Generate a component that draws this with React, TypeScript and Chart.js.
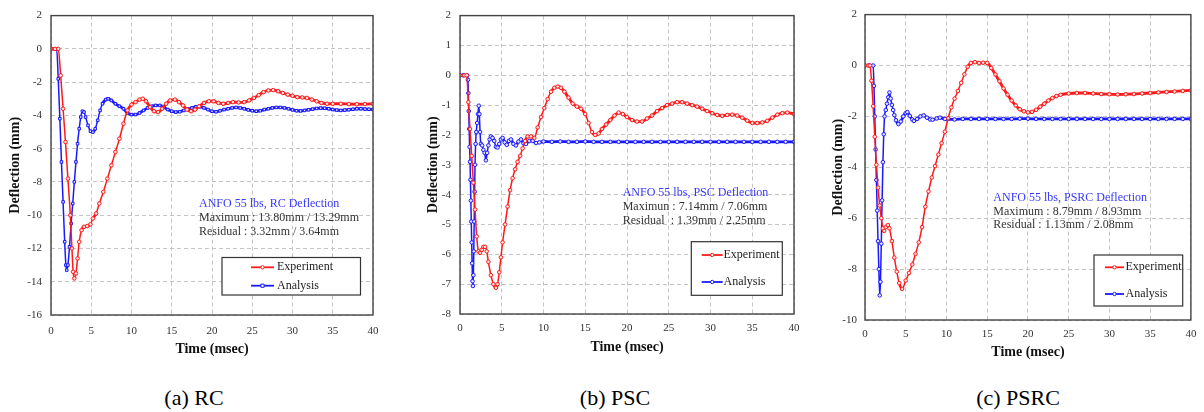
import React, { useEffect, useRef } from 'react';
import { Chart, registerables } from 'chart.js';

Chart.register(...registerables);

// ---------- data (time in msec, deflection in mm) ----------
const rcExperiment: [number, number][] = [
  [0, 0], [0.5, 0], [0.9, 0], [1.2, -1.6], [1.5, -3.6], [1.8, -5.6], [2.1, -7.8], [2.4, -10.0], [2.6, -12.0],
  [2.75, -13.4], [2.9, -13.8], [3.1, -13.5], [3.3, -12.6], [3.5, -11.6], [3.8, -10.9], [4.1, -10.7], [4.5, -10.65],
  [4.9, -10.55], [5.2, -10.2], [5.6, -9.9], [6.0, -9.3], [6.5, -8.6], [7.0, -7.8], [7.5, -7.0], [8.0, -6.2],
  [8.5, -5.4], [9.0, -4.5], [9.5, -3.7], [10.0, -3.35], [10.5, -3.2], [11.0, -3.05], [11.4, -3.0], [11.8, -3.15],
  [12.3, -3.5], [12.8, -3.75], [13.3, -3.8], [13.8, -3.6], [14.3, -3.3], [14.8, -3.1], [15.4, -3.05], [15.9, -3.2],
  [16.4, -3.4], [16.9, -3.65], [17.4, -3.75], [17.9, -3.65], [18.4, -3.45], [19.0, -3.25], [19.6, -3.15],
  [20.2, -3.15], [20.8, -3.25], [21.4, -3.3], [22.0, -3.25], [22.6, -3.2], [23.3, -3.22], [24.0, -3.2],
  [24.6, -3.1], [25.2, -2.95], [25.8, -2.78], [26.4, -2.6], [27.0, -2.5], [27.6, -2.48], [28.2, -2.55],
  [28.8, -2.65], [29.4, -2.75], [30.0, -2.82], [30.6, -2.9], [31.2, -2.92], [31.8, -2.95], [32.4, -3.05],
  [33.0, -3.15], [33.6, -3.25], [34.3, -3.3], [35.0, -3.3], [36.0, -3.3], [37.0, -3.32], [38.0, -3.33],
  [39.0, -3.32], [40.0, -3.3],
];

const rcAnalysis: [number, number][] = [
  [0, 0], [0.5, 0], [0.7, 0], [0.9, -1.8], [1.1, -4.2], [1.3, -6.8], [1.5, -9.2], [1.7, -11.6], [1.85, -13.0],
  [1.95, -13.3], [2.1, -13.0], [2.3, -11.9], [2.5, -10.5], [2.7, -9.3], [2.9, -8.0], [3.1, -6.8], [3.3, -5.7],
  [3.5, -4.8], [3.7, -4.1], [3.9, -3.75], [4.1, -3.8], [4.3, -4.1], [4.6, -4.6], [4.9, -4.95], [5.2, -5.0],
  [5.5, -4.8], [5.8, -4.3], [6.1, -3.7], [6.4, -3.3], [6.8, -3.05], [7.1, -3.0], [7.5, -3.1], [8.0, -3.3],
  [8.5, -3.45], [9.0, -3.6], [9.5, -3.85], [10.0, -3.95], [10.5, -3.95], [11.0, -3.85], [11.5, -3.7],
  [12.0, -3.55], [12.5, -3.45], [13.0, -3.4], [13.5, -3.4], [14.0, -3.5], [14.5, -3.65], [15.0, -3.75],
  [15.5, -3.8], [16.0, -3.78], [16.5, -3.7], [17.0, -3.62], [17.5, -3.55], [18.0, -3.48], [18.5, -3.48],
  [19.0, -3.55], [19.5, -3.65], [20.0, -3.75], [20.5, -3.78], [21.0, -3.72], [21.5, -3.65], [22.0, -3.6],
  [22.5, -3.55], [23.0, -3.52], [23.5, -3.55], [24.0, -3.6], [24.5, -3.67], [25.0, -3.72], [25.5, -3.75],
  [26.0, -3.72], [26.5, -3.65], [27.0, -3.6], [27.5, -3.55], [28.0, -3.52], [28.5, -3.52], [29.0, -3.55],
  [29.5, -3.6], [30.0, -3.67], [30.5, -3.72], [31.0, -3.73], [31.5, -3.7], [32.0, -3.66], [32.5, -3.62],
  [33.0, -3.58], [33.5, -3.56], [34.0, -3.57], [34.5, -3.6], [35.0, -3.65], [35.5, -3.68], [36.0, -3.7],
  [36.5, -3.68], [37.0, -3.66], [37.5, -3.63], [38.0, -3.6], [38.5, -3.6], [39.0, -3.62], [39.5, -3.63],
  [40.0, -3.64],
];

const pscExperiment: [number, number][] = [
  [0, 0], [0.5, 0], [0.8, 0], [1.0, -0.9], [1.2, -1.8], [1.4, -2.7], [1.6, -3.6], [1.8, -4.5], [2.0, -5.4],
  [2.2, -5.9], [2.4, -5.95], [2.6, -5.85], [2.8, -5.75], [3.0, -5.75], [3.2, -5.9], [3.4, -6.25], [3.7, -6.7],
  [4.0, -7.0], [4.3, -7.12], [4.5, -7.0], [4.7, -6.6], [4.9, -6.1], [5.1, -5.6], [5.4, -5.0], [5.7, -4.4],
  [6.0, -3.85], [6.3, -3.45], [6.6, -3.15], [6.9, -2.9], [7.2, -2.7], [7.5, -2.45], [7.8, -2.2], [8.1, -2.05],
  [8.5, -2.05], [8.9, -2.1], [9.3, -1.75], [9.7, -1.4], [10.1, -1.1], [10.5, -0.8], [10.9, -0.55], [11.3, -0.42],
  [11.7, -0.38], [12.1, -0.42], [12.5, -0.55], [13.0, -0.75], [13.5, -0.95], [14.0, -1.05], [14.5, -1.12],
  [15.0, -1.3], [15.4, -1.6], [15.8, -1.9], [16.2, -2.0], [16.6, -1.95], [17.0, -1.8], [17.5, -1.65],
  [18.0, -1.5], [18.5, -1.35], [19.0, -1.25], [19.5, -1.3], [20.0, -1.4], [20.6, -1.5], [21.2, -1.55],
  [21.8, -1.55], [22.4, -1.45], [23.0, -1.35], [23.6, -1.2], [24.2, -1.1], [24.8, -1.0], [25.4, -0.95],
  [26.0, -0.9], [26.6, -0.9], [27.2, -0.95], [27.8, -1.0], [28.4, -1.05], [29.0, -1.12], [29.6, -1.2],
  [30.2, -1.27], [30.8, -1.33], [31.4, -1.36], [32.0, -1.33], [32.6, -1.32], [33.2, -1.35], [33.8, -1.42],
  [34.4, -1.52], [35.0, -1.6], [35.6, -1.6], [36.2, -1.58], [36.8, -1.53], [37.4, -1.42], [38.0, -1.32],
  [38.6, -1.27], [39.2, -1.25], [40.0, -1.3],
];

const pscAnalysis: [number, number][] = [
  [0, 0], [0.4, 0], [0.85, 0], [0.95, -0.15], [1.0, -0.6], [1.05, -1.2], [1.1, -1.8], [1.15, -2.4], [1.2, -2.9],
  [1.25, -3.5], [1.3, -4.2], [1.35, -4.9], [1.4, -5.6], [1.45, -6.3], [1.5, -6.9], [1.55, -7.06], [1.6, -6.7],
  [1.65, -5.9], [1.7, -4.9], [1.75, -3.9], [1.8, -3.0], [1.87, -2.3], [1.95, -1.9], [2.05, -1.6], [2.15, -1.3],
  [2.25, -1.02], [2.32, -1.3], [2.4, -1.9], [2.5, -2.3], [2.65, -2.35], [2.8, -2.5], [2.95, -2.6], [3.1, -2.85],
  [3.25, -2.6], [3.4, -2.35], [3.55, -2.15], [3.7, -2.05], [3.9, -2.1], [4.1, -2.2], [4.3, -2.4], [4.5, -2.42],
  [4.7, -2.3], [4.9, -2.15], [5.1, -2.1], [5.35, -2.25], [5.6, -2.33], [5.85, -2.2], [6.1, -2.15], [6.4, -2.3],
  [6.7, -2.35], [7.0, -2.22], [7.3, -2.15], [7.6, -2.28], [7.9, -2.3], [8.3, -2.2], [8.7, -2.2], [9.1, -2.27],
  [9.5, -2.25], [10, -2.22], [11, -2.23], [12, -2.22], [13, -2.23], [14, -2.23], [15, -2.22], [16, -2.23],
  [17, -2.23], [18, -2.23], [19, -2.23], [20, -2.23], [21, -2.23], [22, -2.23], [23, -2.23], [24, -2.23],
  [25, -2.23], [26, -2.23], [27, -2.23], [28, -2.23], [29, -2.23], [30, -2.23], [31, -2.23], [32, -2.23],
  [33, -2.23], [34, -2.23], [35, -2.23], [36, -2.23], [37, -2.23], [38, -2.23], [39, -2.23], [40, -2.23],
];

const psrcExperiment: [number, number][] = [
  [0, 0], [0.4, 0], [0.6, 0], [0.8, -0.6], [1.0, -1.6], [1.2, -2.8], [1.4, -3.9], [1.6, -4.8], [1.8, -5.5],
  [2.0, -6.0], [2.2, -6.4], [2.35, -6.5], [2.55, -6.35], [2.8, -6.27], [3.0, -6.4], [3.3, -6.9], [3.6, -7.55],
  [3.9, -8.1], [4.2, -8.55], [4.55, -8.78], [5.0, -8.45], [5.4, -8.15], [5.8, -7.82], [6.2, -7.4], [6.6, -6.95],
  [7.0, -6.35], [7.4, -5.55], [7.8, -4.95], [8.2, -4.4], [8.6, -3.95], [9.0, -3.5], [9.4, -3.05], [9.8, -2.6],
  [10.2, -2.07], [10.6, -1.65], [11.0, -1.3], [11.4, -1.0], [11.8, -0.68], [12.2, -0.35], [12.6, -0.05],
  [13.0, 0.1], [13.5, 0.13], [14.0, 0.1], [14.5, 0.11], [15.0, 0.1], [15.5, -0.1], [16.0, -0.35], [16.5, -0.62],
  [17.0, -0.9], [17.5, -1.15], [18.0, -1.38], [18.5, -1.57], [19.0, -1.72], [19.5, -1.8], [20.0, -1.84],
  [20.5, -1.82], [21.0, -1.74], [21.5, -1.62], [22.0, -1.5], [22.5, -1.38], [23.0, -1.28], [23.5, -1.2],
  [24.0, -1.15], [25.0, -1.1], [26.0, -1.08], [27.0, -1.08], [28.0, -1.1], [29.0, -1.12], [30.0, -1.13],
  [31.0, -1.14], [32.0, -1.13], [33.0, -1.12], [34.0, -1.1], [35.0, -1.08], [36.0, -1.06], [37.0, -1.04],
  [38.0, -1.02], [39.0, -1.0], [40.0, -0.98],
];

const psrcAnalysis: [number, number][] = [
  [0, 0], [0.5, 0], [1.0, 0], [1.1, -0.8], [1.2, -2.0], [1.3, -3.3], [1.4, -4.5], [1.5, -5.7], [1.6, -6.9],
  [1.7, -8.0], [1.81, -9.03], [1.9, -8.5], [2.0, -7.0], [2.1, -5.3], [2.2, -3.8], [2.3, -2.7], [2.4, -2.0],
  [2.55, -1.75], [2.7, -1.5], [2.85, -1.25], [3.0, -1.06], [3.15, -1.3], [3.3, -1.55], [3.45, -1.75],
  [3.6, -1.95], [3.8, -2.15], [4.1, -2.3], [4.4, -2.2], [4.7, -2.0], [5.0, -1.87], [5.2, -1.83], [5.5, -1.98],
  [5.8, -2.12], [6.0, -2.18], [6.4, -2.1], [6.8, -2.0], [7.2, -1.96], [7.6, -2.05], [8.0, -2.12], [8.3, -2.13],
  [8.8, -2.08], [9.2, -2.05], [9.8, -2.1], [11, -2.12], [12, -2.1], [13, -2.1], [14, -2.1], [15, -2.1],
  [16, -2.1], [17, -2.1], [18, -2.1], [19, -2.09], [20, -2.09], [21, -2.1], [22, -2.1], [23, -2.1], [24, -2.1],
  [25, -2.1], [26, -2.1], [27, -2.1], [28, -2.1], [29, -2.1], [30, -2.1], [31, -2.1], [32, -2.1], [33, -2.1],
  [34, -2.1], [35, -2.1], [36, -2.1], [37, -2.1], [38, -2.1], [39, -2.1], [40, -2.1],
];

const seriesNames = ['Experiment', 'Analysis'];
const xAxisLabel = 'Time (msec)';
const yAxisLabel = 'Deflection (mm)';
const captions = ['(a) RC', '(b) PSC', '(c) PSRC'];
const noteTitles = ['ANFO 55 lbs, RC Deflection', 'ANFO 55 lbs, PSC Deflection', 'ANFO 55 lbs, PSRC Deflection'];
const noteMax = ['Maximum : 13.80mm / 13.29mm', 'Maximun : 7.14mm / 7.06mm', 'Maximum : 8.79mm / 8.93mm'];
const noteRes = ['Residual : 3.32mm / 3.64mm', 'Residual  : 1.39mm / 2.25mm', 'Residual : 1.13mm / 2.08mm'];
const yRanges: [number, number, number][] = [[-16, 2, 2], [-8, 2, 1], [-10, 2, 2]];

// ---------- styling ----------
const RED = 'rgb(255,25,25)';
const BLUE = 'rgb(25,25,255)';
const SERIF = "'Liberation Serif', 'Times New Roman', serif";

type Panel = {
  left: number; w: number; h: number;
  padTop: number; padRight: number; yW: number; xH: number;
  xTickPad: number; yTickPad: number; xTitlePad: number; yTitlePad: number;
  note: { x: number; y: number };
  legend: { x: number; y: number; w: number; h: number; lx1: number; lx2: number; tx: number; y1: number; y2: number };
  exp: [number, number][]; ana: [number, number][];
  anaStyle: 'circle' | 'rect';
  idx: number;
};

const panels: Panel[] = [
  {
    left: 0, w: 400, h: 365, padTop: 9, padRight: 27, yW: 51, xH: 50,
    xTickPad: 9.8, yTickPad: 9, xTitlePad: 7.4, yTitlePad: 6.6,
    note: { x: 199, y: 204 },
    legend: { x: 222, y: 257.5, w: 138.5, h: 37.5, lx1: 251, lx2: 274, tx: 277, y1: 267.3, y2: 285.7 },
    exp: rcExperiment, ana: rcAnalysis, anaStyle: 'rect', idx: 0,
  },
  {
    left: 400, w: 410, h: 365, padTop: 11, padRight: 16, yW: 60, xH: 51,
    xTickPad: 7.9, yTickPad: 9, xTitlePad: 9.4, yTitlePad: 24.6,
    note: { x: 222.7, y: 193.3 },
    legend: { x: 291.3, y: 241.7, w: 91, h: 53.6, lx1: 301.7, lx2: 322.7, tx: 323.5, y1: 255, y2: 282 },
    exp: pscExperiment, ana: pscAnalysis, anaStyle: 'circle', idx: 1,
  },
  {
    left: 810, w: 394, h: 370, padTop: 9, padRight: 7, yW: 55, xH: 50,
    xTickPad: 7.6, yTickPad: 8, xTitlePad: 9.4, yTitlePad: 19.6,
    note: { x: 183.3, y: 197.7 },
    legend: { x: 284, y: 255, w: 88.7, h: 51, lx1: 295, lx2: 314, tx: 315.5, y1: 267.3, y2: 294 },
    exp: psrcExperiment, ana: psrcAnalysis, anaStyle: 'circle', idx: 2,
  },
];

const toXY = (arr: [number, number][]) => arr.map(([x, y]) => ({ x, y }));

// thinner stroke where the curve is steep (sparse markers), thicker where it is flat (dense markers)
const segWidth = (ctx: any) => {
  const dx = Math.abs(ctx.p1.x - ctx.p0.x) || 0.01;
  const dy = Math.abs(ctx.p1.y - ctx.p0.y);
  return dy / dx > 2.2 ? 1.5 : 2.8;
};

function ChartPanel({ p }: { p: Panel }) {
  const ref = useRef<HTMLCanvasElement | null>(null);
  useEffect(() => {
    if (!ref.current) return;
    const [ymin, ymax, ystep] = yRanges[p.idx];
    const overlay = {
      id: 'overlay',
      afterDatasetsDraw(chart: any) {
        const { ctx, chartArea: a } = chart;
        ctx.save();
        ctx.strokeStyle = '#444';
        ctx.lineWidth = 1.4;
        ctx.setLineDash([]);
        ctx.strokeRect(a.left, a.top, a.right - a.left, a.bottom - a.top);
        // note
        ctx.font = `12px ${SERIF}`;
        ctx.textBaseline = 'middle';
        ctx.textAlign = 'left';
        ctx.fillStyle = 'rgb(55,55,255)';
        ctx.fillText(noteTitles[p.idx], p.note.x, p.note.y);
        ctx.fillStyle = '#333';
        ctx.fillText(noteMax[p.idx], p.note.x, p.note.y + 14);
        ctx.fillText(noteRes[p.idx], p.note.x, p.note.y + 27.5);
        // legend
        const L = p.legend;
        ctx.fillStyle = '#fff';
        ctx.fillRect(L.x, L.y, L.w, L.h);
        ctx.strokeStyle = '#333';
        ctx.lineWidth = 1.2;
        ctx.strokeRect(L.x, L.y, L.w, L.h);
        const entries: [string, string, number, string][] = [
          [seriesNames[0], RED, L.y1, 'circle'],
          [seriesNames[1], BLUE, L.y2, p.anaStyle],
        ];
        for (const [name, col, yy, shape] of entries) {
          ctx.strokeStyle = col;
          ctx.lineWidth = 1.8;
          ctx.beginPath();
          ctx.moveTo(L.lx1, yy);
          ctx.lineTo(L.lx2, yy);
          ctx.stroke();
          const cx = (L.lx1 + L.lx2) / 2;
          ctx.fillStyle = '#fff';
          ctx.lineWidth = 1;
          ctx.beginPath();
          if (shape === 'rect') ctx.rect(cx - 1.6, yy - 1.6, 3.2, 3.2);
          else ctx.arc(cx, yy, 1.7, 0, Math.PI * 2);
          ctx.fill();
          ctx.stroke();
          ctx.fillStyle = '#222';
          ctx.font = `12px ${SERIF}`;
          ctx.fillText(name, L.tx, yy);
        }
        ctx.restore();
      },
    };
    const tickFont = { family: SERIF, size: 11 };
    const titleFont = { family: SERIF, size: 14, weight: 'bold' as const };
    const gridOpts = { color: '#c4c4c4', lineWidth: 1, drawTicks: false };
    const mkSet = (label: string, data: [number, number][], col: string, fillCol: string, shape: string) => ({
      label, data: toXY(data), borderColor: col, backgroundColor: col,
      borderWidth: 2, pointRadius: 1.8, pointBorderWidth: 1, pointBackgroundColor: fillCol,
      pointBorderColor: col, pointStyle: shape, cubicInterpolationMode: 'monotone', fill: false,
      segment: { borderWidth: segWidth },
    });
    const chart = new Chart(ref.current, {
      type: 'line',
      data: {
        datasets: [
          mkSet(seriesNames[0], p.exp, RED, 'rgba(255,225,225,1)', 'circle'),
          mkSet(seriesNames[1], p.ana, BLUE, 'rgba(225,225,255,1)', p.anaStyle),
        ],
      },
      options: {
        responsive: false,
        animation: false,
        events: [],
        layout: { padding: { top: p.padTop, right: p.padRight, left: 0, bottom: 0 } },
        plugins: { legend: { display: false }, tooltip: { enabled: false }, title: { display: false } },
        scales: {
          x: {
            type: 'linear', min: 0, max: 40,
            ticks: { stepSize: 5, padding: p.xTickPad, color: '#333', font: tickFont, maxRotation: 0 },
            grid: gridOpts,
            border: { display: false, dash: [4, 3] },
            title: { display: true, text: xAxisLabel, color: '#111', font: titleFont, padding: { top: 0, bottom: p.xTitlePad } },
            afterFit: (s: any) => { s.height = p.xH; },
          },
          y: {
            type: 'linear', min: ymin, max: ymax,
            ticks: { stepSize: ystep, padding: p.yTickPad, color: '#333', font: tickFont },
            grid: gridOpts,
            border: { display: false, dash: [4, 3] },
            title: { display: true, text: yAxisLabel, color: '#111', font: titleFont, padding: { top: p.yTitlePad, bottom: 0 } },
            afterFit: (s: any) => { s.width = p.yW; },
          },
        },
      } as any,
      plugins: [overlay],
    });
    return () => chart.destroy();
  }, [p]);
  return (
    <canvas
      ref={ref}
      width={p.w}
      height={p.h}
      style={{ position: 'absolute', left: p.left, top: 0, width: p.w, height: p.h }}
    />
  );
}

const captionCenters = [194, 615, 1018];

export default function App() {
  return (
    <div style={{ position: 'fixed', left: 0, top: 0, width: 1204, height: 412, background: '#fff', overflow: 'hidden' }}>
      {panels.map((p) => <ChartPanel key={p.idx} p={p} />)}
      {captions.map((c, i) => (
        <div
          key={c}
          style={{
            position: 'absolute', left: captionCenters[i] - 100, width: 200, top: 385, height: 26,
            lineHeight: '26px', textAlign: 'center', fontFamily: SERIF, fontSize: 22, color: '#000',
          }}
        >
          {c}
        </div>
      ))}
    </div>
  );
}
